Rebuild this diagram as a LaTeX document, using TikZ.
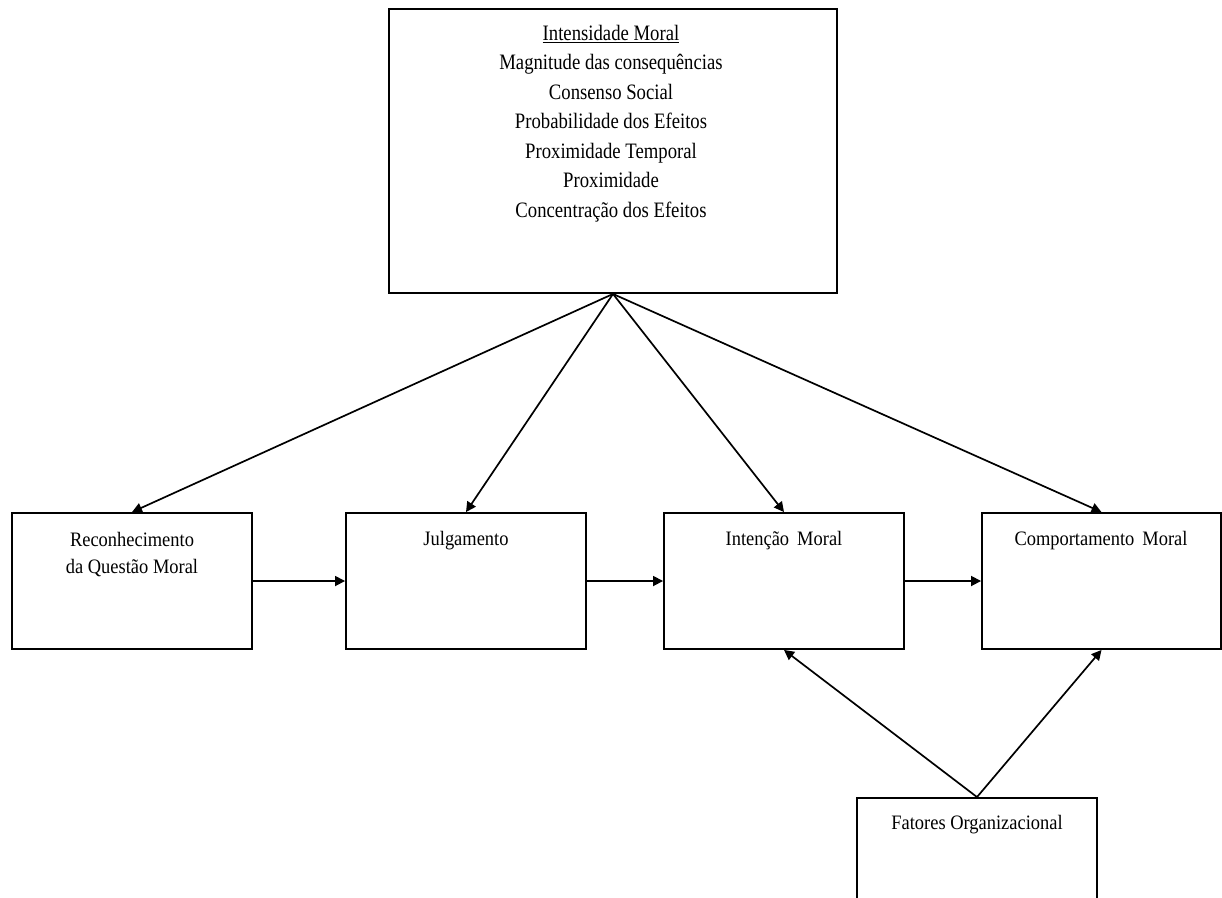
\documentclass[tikz,border=0pt]{standalone}
\usepackage{fontspec}
\setmainfont{Liberation Serif}
\usetikzlibrary{arrows.meta}
\newfontfamily\bigtxt{Liberation Serif}[FakeStretch=0.85]
\newfontfamily\boxtxt{Liberation Serif}[FakeStretch=0.9]
\begin{document}
\begin{tikzpicture}[x=1pt,y=-1pt,
  box/.style={draw=black,line width=1.9pt,rectangle,inner sep=0pt},
  rowbox/.style={box,minimum width=240pt,minimum height=136pt},
  lbl/.style={inner sep=0pt,align=center,font=\boxtxt\fontsize{20.5}{27}\selectfont},
  link/.style={line width=1.7pt,-{Triangle[length=10pt,width=10pt]}}]
\useasboundingbox (0,0) rectangle (1222,897);
\clip (0,0) rectangle (1222,897);
\fill[white] (0,0) rectangle (1222,897);
% upper box with the components of moral intensity
\node[box,minimum width=448pt,minimum height=284pt] (im) at (613,151) {};
\node[inner sep=0pt,align=center,anchor=north,font=\bigtxt\fontsize{22}{29.5}\selectfont] (imt) at (611,25)
  {\underline{Intensidade Moral}\\Magnitude das consequências\\Consenso Social\\Probabilidade dos Efeitos\\Proximidade Temporal\\Proximidade\\Concentração dos Efeitos};
% the four stages
\node[rowbox] (rq) at (132,581) {};
\node[rowbox] (jl) at (466,581) {};
\node[rowbox] (it) at (784,581) {};
\node[rowbox,minimum width=239pt] (cp) at (1101.5,581) {};
\node[lbl] (rqt) at (132,555) {Reconhecimento\\da Questão Moral};
\node[lbl] (jlt) at (466,541) {Julgamento};
\node[lbl] (itt) at (784,541) {Intenção\, Moral};
\node[lbl] (cpt) at (1101,541) {Comportamento\, Moral};
% organisational factors
\node[rowbox] (fo) at (977,866) {};
\node[lbl] (fot) at (977,825) {Fatores Organizacional};
% influence of moral intensity
\draw[link] (im.south) -- (rq.north);
\draw[link] (im.south) -- (jl.north);
\draw[link] (im.south) -- (it.north);
\draw[link] (im.south) -- (cp.north);
% sequence of stages
\draw[link] (rq.east) -- (jl.west);
\draw[link] (jl.east) -- (it.west);
\draw[link] (it.east) -- (cp.west);
% influence of organisational factors
\draw[link] (fo.north) -- (it.south);
\draw[link] (fo.north) -- (cp.south);
\end{tikzpicture}
\end{document}
